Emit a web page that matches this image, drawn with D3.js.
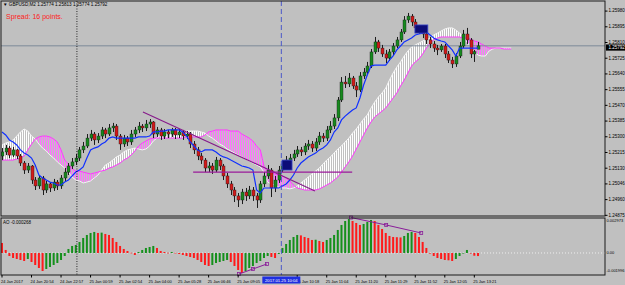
<!DOCTYPE html>
<html><head><meta charset="utf-8">
<script src="https://cdn.jsdelivr.net/npm/d3@7"></script>
<style>
html,body{margin:0;padding:0;background:#c0c0c0;overflow:hidden}
svg{display:block}
text{font-family:"Liberation Sans",Arial,sans-serif}
</style>
</head><body>
<svg id="c" width="625" height="285"></svg>
<script>
// ---------------- DATA ----------------
const opens = [
1.25196,1.25218,1.25239,1.25201,1.25229,1.25196,1.25158,1.25120,1.25142,1.25066,
1.25034,1.25077,1.25012,1.25045,1.25023,1.25055,1.25034,1.25077,1.25109,1.25142,
1.25164,1.25185,1.25229,1.25250,1.25293,1.25315,1.25283,1.25304,1.25337,1.25315,
1.25348,1.25358,1.25304,1.25261,1.25293,1.25272,1.25315,1.25337,1.25358,1.25348,
1.25369,1.25380,1.25315,1.25337,1.25304,1.25326,1.25315,1.25337,1.25310,1.25326,
1.25304,1.25315,1.25261,1.25229,1.25196,1.25174,1.25131,1.25142,1.25120,1.25174,
1.25142,1.25088,1.25045,1.25012,1.24980,1.24958,1.25001,1.24980,1.25012,1.24980,
1.24958,1.25045,1.25088,1.25120,1.25023,1.25066,1.25120,1.25153,1.25174,1.25185,
1.25207,1.25229,1.25218,1.25250,1.25261,1.25239,1.25272,1.25304,1.25293,1.25337,
1.25358,1.25402,1.25499,1.25596,1.25586,1.25618,1.25575,1.25553,1.25629,1.25650,
1.25683,1.25759,1.25813,1.25780,1.25748,1.25726,1.25759,1.25791,1.25824,1.25867,
1.25932,1.25953,1.25921,1.25889,1.25878,1.25856,1.25824,1.25802,1.25780,1.25770,
1.25791,1.25748,1.25715,1.25694,1.25737,1.25791,1.25856,1.25824,1.25748,1.25774];
const highs = [
1.25239,1.25256,1.25250,1.25245,1.25234,1.25207,1.25169,1.25158,1.25147,1.25082,
1.25093,1.25088,1.25061,1.25055,1.25072,1.25066,1.25093,1.25131,1.25158,1.25185,
1.25207,1.25245,1.25272,1.25315,1.25337,1.25326,1.25320,1.25353,1.25348,1.25369,
1.25375,1.25369,1.25315,1.25310,1.25304,1.25337,1.25353,1.25380,1.25369,1.25391,
1.25396,1.25385,1.25353,1.25348,1.25342,1.25337,1.25348,1.25348,1.25342,1.25337,
1.25331,1.25326,1.25277,1.25245,1.25212,1.25185,1.25164,1.25158,1.25191,1.25185,
1.25153,1.25104,1.25061,1.25028,1.24996,1.25018,1.25023,1.25034,1.25028,1.24996,
1.25061,1.25109,1.25147,1.25131,1.25088,1.25142,1.25174,1.25196,1.25207,1.25229,
1.25250,1.25245,1.25266,1.25283,1.25277,1.25293,1.25326,1.25320,1.25358,1.25385,
1.25423,1.25515,1.25623,1.25629,1.25645,1.25629,1.25596,1.25650,1.25672,1.25705,
1.25775,1.25840,1.25824,1.25797,1.25770,1.25775,1.25807,1.25840,1.25883,1.25953,
1.25970,1.25964,1.25937,1.25905,1.25889,1.25867,1.25840,1.25818,1.25797,1.25802,
1.25802,1.25764,1.25732,1.25753,1.25813,1.25878,1.25889,1.25834,1.25770,1.25813];
const lows = [
1.25174,1.25201,1.25185,1.25191,1.25180,1.25142,1.25099,1.25104,1.25045,1.25012,
1.25018,1.24985,1.24996,1.25001,1.25007,1.25012,1.25018,1.25061,1.25093,1.25126,
1.25147,1.25169,1.25212,1.25239,1.25277,1.25256,1.25266,1.25288,1.25293,1.25304,
1.25326,1.25283,1.25229,1.25245,1.25250,1.25256,1.25299,1.25320,1.25326,1.25331,
1.25348,1.25293,1.25299,1.25283,1.25288,1.25293,1.25299,1.25288,1.25293,1.25283,
1.25288,1.25239,1.25207,1.25174,1.25153,1.25109,1.25109,1.25099,1.25109,1.25120,
1.25066,1.25023,1.24985,1.24947,1.24920,1.24936,1.24953,1.24963,1.24953,1.24915,
1.24942,1.25028,1.25072,1.24974,1.25001,1.25050,1.25109,1.25137,1.25158,1.25169,
1.25191,1.25196,1.25201,1.25229,1.25218,1.25223,1.25256,1.25272,1.25277,1.25320,
1.25342,1.25385,1.25488,1.25564,1.25569,1.25559,1.25515,1.25542,1.25613,1.25634,
1.25672,1.25748,1.25759,1.25732,1.25699,1.25710,1.25742,1.25780,1.25813,1.25856,
1.25916,1.25899,1.25872,1.25856,1.25834,1.25802,1.25780,1.25759,1.25742,1.25759,
1.25726,1.25699,1.25672,1.25678,1.25726,1.25780,1.25802,1.25726,1.25705,1.25774];
const closes = [
1.25218,1.25239,1.25201,1.25229,1.25196,1.25158,1.25120,1.25142,1.25066,1.25034,
1.25077,1.25012,1.25045,1.25023,1.25055,1.25034,1.25077,1.25109,1.25142,1.25164,
1.25185,1.25229,1.25250,1.25293,1.25315,1.25283,1.25304,1.25337,1.25315,1.25348,
1.25358,1.25304,1.25261,1.25293,1.25272,1.25315,1.25337,1.25358,1.25348,1.25369,
1.25380,1.25315,1.25337,1.25304,1.25326,1.25315,1.25337,1.25310,1.25326,1.25304,
1.25315,1.25261,1.25229,1.25196,1.25174,1.25131,1.25142,1.25120,1.25174,1.25142,
1.25088,1.25045,1.25012,1.24980,1.24958,1.25001,1.24980,1.25012,1.24980,1.24958,
1.25045,1.25088,1.25120,1.25023,1.25066,1.25120,1.25153,1.25174,1.25185,1.25207,
1.25229,1.25218,1.25250,1.25261,1.25239,1.25272,1.25304,1.25293,1.25337,1.25358,
1.25402,1.25499,1.25596,1.25586,1.25618,1.25575,1.25553,1.25629,1.25650,1.25683,
1.25759,1.25813,1.25780,1.25748,1.25726,1.25759,1.25791,1.25824,1.25867,1.25932,
1.25953,1.25921,1.25889,1.25878,1.25856,1.25824,1.25802,1.25780,1.25770,1.25791,
1.25748,1.25715,1.25694,1.25737,1.25791,1.25856,1.25824,1.25748,1.25760,1.25792];
// Kijun-sen (blue line)
const kijun = [
1.25326,1.25310,1.25283,1.25272,1.25256,1.25229,1.25212,1.25201,1.25185,1.25147,
1.25093,1.25077,1.25066,1.25055,1.25050,1.25039,1.25039,1.25055,1.25066,1.25088,
1.25109,1.25120,1.25137,1.25185,1.25229,1.25239,1.25245,1.25261,1.25272,1.25293,
1.25299,1.25293,1.25293,1.25293,1.25293,1.25293,1.25293,1.25299,1.25299,1.25299,
1.25304,1.25326,1.25326,1.25331,1.25331,1.25337,1.25337,1.25337,1.25337,1.25326,
1.25304,1.25272,1.25250,1.25229,1.25218,1.25229,1.25229,1.25229,1.25218,1.25201,
1.25191,1.25185,1.25174,1.25164,1.25153,1.25142,1.25137,1.25131,1.25120,1.25012,
1.24996,1.25023,1.25023,1.25023,1.25023,1.25023,1.25034,1.25045,1.25066,1.25093,
1.25131,1.25158,1.25174,1.25191,1.25201,1.25212,1.25229,1.25239,1.25256,1.25283,
1.25326,1.25348,1.25391,1.25412,1.25429,1.25445,1.25456,1.25510,1.25580,1.25634,
1.25683,1.25688,1.25688,1.25688,1.25688,1.25715,1.25737,1.25770,1.25791,1.25813,
1.25824,1.25834,1.25851,1.25856,1.25861,1.25867,1.25851,1.25834,1.25824,1.25818,
1.25813,1.25791,1.25770,1.25737,1.25780,1.25780,1.25780,1.25780,1.25780,1.25780];
// Senkou spans (cloud), drawn white and pink
const spanWhite = [
1.25256,1.25266,1.25272,1.25283,1.25304,1.25326,1.25342,1.25331,1.25304,1.25288,
1.25261,1.25239,1.25223,1.25201,1.25185,1.25164,1.25147,1.25131,1.25109,1.25082,
1.25066,1.25061,1.25050,1.25055,1.25061,1.25077,1.25093,1.25120,1.25147,1.25158,
1.25174,1.25191,1.25201,1.25218,1.25229,1.25234,1.25239,1.25234,1.25229,1.25234,
1.25250,1.25277,1.25293,1.25310,1.25320,1.25320,1.25326,1.25326,1.25326,1.25326,
1.25331,1.25331,1.25331,1.25331,1.25326,1.25320,1.25304,1.25293,1.25277,1.25261,
1.25250,1.25234,1.25223,1.25212,1.25201,1.25191,1.25180,1.25169,1.25158,1.25147,
1.25137,1.25109,1.25055,1.25045,1.25039,1.25028,1.25023,1.25023,1.25018,1.25023,
1.25034,1.25050,1.25066,1.25082,1.25099,1.25115,1.25131,1.25153,1.25174,1.25191,
1.25212,1.25234,1.25250,1.25272,1.25293,1.25320,1.25342,1.25369,1.25396,1.25418,
1.25456,1.25488,1.25515,1.25537,1.25564,1.25607,1.25645,1.25678,1.25705,1.25737,
1.25764,1.25786,1.25797,1.25807,1.25818,1.25829,1.25834,1.25851,1.25861,1.25872,
1.25883,1.25889,1.25889,1.25878,1.25861,1.25845,1.25813,1.25786,1.25759,1.25742,
1.25737,1.25737,1.25764,1.25775,1.25780,1.25780,1.25780,1.25780,1.25780];
const spanPink = [
1.25174,1.25174,1.25174,1.25174,1.25180,1.25185,1.25196,1.25229,1.25261,1.25288,
1.25299,1.25304,1.25304,1.25299,1.25288,1.25272,1.25229,1.25174,1.25153,1.25126,
1.25115,1.25115,1.25109,1.25104,1.25099,1.25104,1.25109,1.25115,1.25120,1.25131,
1.25137,1.25147,1.25158,1.25174,1.25185,1.25201,1.25223,1.25250,1.25266,1.25277,
1.25288,1.25293,1.25293,1.25293,1.25293,1.25293,1.25293,1.25293,1.25293,1.25293,
1.25299,1.25299,1.25299,1.25299,1.25299,1.25310,1.25326,1.25331,1.25337,1.25337,
1.25337,1.25337,1.25331,1.25331,1.25331,1.25315,1.25304,1.25293,1.25277,1.25250,
1.25229,1.25142,1.25109,1.25104,1.25099,1.25093,1.25088,1.25077,1.25061,1.25039,
1.25023,1.25018,1.25012,1.25012,1.25012,1.25012,1.25018,1.25028,1.25039,1.25050,
1.25066,1.25082,1.25109,1.25137,1.25164,1.25196,1.25234,1.25272,1.25310,1.25348,
1.25380,1.25407,1.25423,1.25439,1.25456,1.25483,1.25510,1.25537,1.25575,1.25607,
1.25645,1.25683,1.25705,1.25721,1.25748,1.25780,1.25807,1.25824,1.25834,1.25840,
1.25840,1.25840,1.25840,1.25840,1.25840,1.25834,1.25834,1.25829,1.25818,1.25813,
1.25802,1.25791,1.25780,1.25780,1.25780,1.25780,1.25775,1.25775,1.25775];
// Awesome Oscillator
const ao = [
0.000875,0.000263,-0.000263,-0.000438,-0.000525,-0.000613,-0.000700,-0.000525,-0.000788,-0.001050,
-0.001313,-0.001575,-0.001400,-0.001225,-0.001050,-0.000875,-0.000613,-0.000263,0.000350,0.000613,
0.000700,0.000963,0.001313,0.001575,0.001750,0.001838,0.001750,0.001780,0.001663,0.001575,
0.001313,0.000963,0.000613,0.000350,0.000175,0.000020,-0.000175,0.000088,0.000263,0.000438,
0.000525,0.000613,0.000438,0.000175,0.000088,0.000020,0.000088,0.000010,-0.000088,-0.000175,
-0.000263,-0.000350,-0.000438,-0.000613,-0.000788,-0.001050,-0.001138,-0.001050,-0.000875,-0.000788,
-0.000700,-0.000613,-0.000788,-0.001138,-0.001488,-0.001750,-0.001575,-0.001313,-0.001138,-0.000875,
-0.000700,-0.000438,-0.000263,-0.000350,-0.000438,-0.000088,0.000438,0.000788,0.001138,0.001400,
0.001575,0.001540,0.001400,0.001313,0.001138,0.001160,0.001050,0.000963,0.001138,0.001313,
0.001575,0.002013,0.002450,0.002800,0.002973,0.002800,0.002625,0.002450,0.002538,0.002713,
0.002888,0.002800,0.002450,0.002100,0.001750,0.001488,0.001400,0.001380,0.001360,0.001488,
0.001750,0.001838,0.001750,0.001400,0.000963,0.000438,-0.000010,-0.000263,-0.000438,-0.000525,
-0.000613,-0.000640,-0.000700,-0.000525,-0.000263,-0.000010,0.000263,-0.000030,-0.000240,-0.000268];

const priceTicks = [1.25980,1.25895,1.25810,1.25725,1.25640,1.25555,1.25470,1.25385,1.25300,1.25215,1.25130,1.25045,1.24960,1.24875];
const priceTickLabels = ["1.25980","1.25895","1.25810","1.25725","1.25640","1.25555","1.25470","1.25385","1.25300","1.25215","1.25130","1.25046","1.24960","1.24875"];
const aoTicks = [0.002973, 0, -0.001996];
const aoTickLabels = ["0.002973","0.00","-0.001996"];
const timeTickBars = [0,8,16,24,32,40,48,56,64,80,88,96,104,112,120,128];
const timeLabels = ["24 Jan 2017","24 Jan 20:54","24 Jan 22:57","25 Jan 00:59","25 Jan 02:54","25 Jan 04:00","25 Jan 05:28","25 Jan 06:46","25 Jan 09:05","25 Jan 10:18","25 Jan 11:04","25 Jan 11:20","25 Jan 11:29","25 Jan 11:52","25 Jan 12:05","25 Jan 13:21"];
const crosshairBar = 75.7, crosshairLabel = "2017.01.25 10:04";
const separatorBar = 20.3;
const bidPrice = 1.25792;
const titleText = "GBPUSD,M2  1.25774 1.25813 1.25774 1.25792";
const spreadText = "Spread: 16 points.";
const aoLabel = "AO -0.000268";
const trendDown = [[38.2,1.25434],[84.8,1.25007]];
const supportLine = [[51.8,1.25109],[94.9,1.25109]];
const aoTrendTop = [[94.6,0.00310],[104.1,0.00245],[113.6,0.00175]];
const aoTrendLow = [[64.2,-0.00184],[68,-0.00140],[71.8,-0.00096]];
const boxes = [[75.9,78.6,1.25174,1.25120],[111.9,115.4,1.25905,1.25861]];

// ---------------- LAYOUT ----------------
const X0=1, X1=605, MT=1, MB=216, AT=218, AB=275;
const svg = d3.select("#c");
const x = d3.scaleLinear().domain([0,163]).range([2, 2+163*3.69]);
const y = d3.scaleLinear().domain([1.248714,1.260346]).range([MB,MT]);
const ya = d3.scaleLinear().domain([-0.001996,0.002973]).range([275.8,219]);

svg.append("rect").attr("width",625).attr("height",285).attr("fill","#c0c0c0");
const defs = svg.append("defs");
defs.append("clipPath").attr("id","clipMain").append("rect").attr("x",X0).attr("y",MT).attr("width",X1-X0).attr("height",MB-MT);
defs.append("clipPath").attr("id","clipAO").append("rect").attr("x",X0).attr("y",AT).attr("width",X1-X0).attr("height",AB-AT);
function hatch(id,col){
  const p=defs.append("pattern").attr("id",id).attr("patternUnits","userSpaceOnUse").attr("width",2).attr("height",2);
  p.append("rect").attr("x",0).attr("y",0).attr("width",1).attr("height",2).attr("fill",col);
}
hatch("hPink","#ff70ff"); hatch("hWhite","#ffffff");
const cIdx = d3.range(spanWhite.length);
defs.append("clipPath").attr("id","belowPink").append("path")
  .attr("d", d3.area().x(i=>x(i)).y0(i=>y(spanPink[i])).y1(MB+5)(cIdx));
defs.append("clipPath").attr("id","abovePink").append("path")
  .attr("d", d3.area().x(i=>x(i)).y0(MT-5).y1(i=>y(spanPink[i]))(cIdx));

const gMain = svg.append("g").attr("clip-path","url(#clipMain)");
const between = d3.area().x(i=>x(i)).y0(i=>y(spanWhite[i])).y1(i=>y(spanPink[i]));
gMain.append("g").attr("clip-path","url(#belowPink)").append("path").attr("d",between(cIdx)).attr("fill","url(#hPink)");
gMain.append("g").attr("clip-path","url(#abovePink)").append("path").attr("d",between(cIdx)).attr("fill","url(#hWhite)");
const lineW = d3.line().x(i=>x(i)).y(i=>y(spanWhite[i]));
const lineP = d3.line().x(i=>x(i)).y(i=>y(spanPink[i]));
gMain.append("path").attr("d",lineW(cIdx)).attr("fill","none").attr("stroke","#f4f4f4").attr("stroke-width",1);
gMain.append("path").attr("d",lineP(cIdx)).attr("fill","none").attr("stroke","#ff38ff").attr("stroke-width",1);

// bid line
gMain.append("line").attr("x1",X0).attr("x2",X1).attr("y1",y(bidPrice)).attr("y2",y(bidPrice)).attr("stroke","#7d8a98").attr("stroke-width",1);

// candles
const bars = closes.map((c,i)=>({i,o:opens[i],h:highs[i],l:lows[i],c}));
const gC = gMain.append("g");
gC.selectAll("line").data(bars).join("line")
  .attr("x1",d=>Math.round(x(d.i))+0.5).attr("x2",d=>Math.round(x(d.i))+0.5)
  .attr("y1",d=>y(d.h)).attr("y2",d=>y(d.l)).attr("stroke","#1c1c1c").attr("stroke-width",1);
gC.selectAll("rect").data(bars).join("rect")
  .attr("x",d=>Math.round(x(d.i))-1).attr("width",3)
  .attr("y",d=>y(Math.max(d.o,d.c)))
  .attr("height",d=>Math.max(1,Math.abs(y(d.o)-y(d.c))))
  .attr("fill",d=>d.c>=d.o?"#178a1e":"#d21a1a")
  .attr("stroke","#1c1c1c").attr("stroke-width",0.4);

// kijun
gMain.append("path").attr("d",d3.line().x((d,i)=>x(i)).y(d=>y(d))(kijun))
  .attr("fill","none").attr("stroke","#1030ff").attr("stroke-width",1.2);

// trend lines
const lp = d3.line().x(d=>x(d[0])).y(d=>y(d[1]));
gMain.append("path").attr("d",lp(trendDown)).attr("stroke","#86198a").attr("stroke-width",1.1).attr("fill","none");
gMain.append("path").attr("d",lp(supportLine)).attr("stroke","#9a1a9a").attr("stroke-width",1.4).attr("fill","none");
// boxes
gMain.selectAll("rect.box").data(boxes).join("rect").attr("class","box")
  .attr("x",d=>x(d[0])).attr("width",d=>x(d[1])-x(d[0]))
  .attr("y",d=>y(d[2])).attr("height",d=>y(d[3])-y(d[2]))
  .attr("fill","#0c0c78").attr("stroke","#3a48c8").attr("stroke-width",0.8);

// AO panel
const gAO = svg.append("g").attr("clip-path","url(#clipAO)");
gAO.append("line").attr("x1",X0).attr("x2",X1).attr("y1",ya(0)).attr("y2",ya(0))
  .attr("stroke","#eeeeee").attr("stroke-dasharray","1,2");
gAO.selectAll("rect").data(ao).join("rect")
  .attr("x",(d,i)=>x(i)-1).attr("width",2)
  .attr("y",d=>Math.min(ya(d),ya(0))).attr("height",d=>Math.max(0.6,Math.abs(ya(d)-ya(0))))
  .attr("fill",(d,i)=>(i>0 && d>ao[i-1])?"#15901c":"#ff1a1a");
const la = d3.line().x(d=>x(d[0])).y(d=>ya(d[1]));
[aoTrendTop,aoTrendLow].forEach(t=>{
  svg.append("path").attr("d",la(t)).attr("stroke","#8a1c9a").attr("stroke-width",1).attr("fill","none");
  svg.selectAll(null).data(t).join("rect").attr("x",d=>x(d[0])-1.5).attr("y",d=>ya(d[1])-1.5)
    .attr("width",3).attr("height",3).attr("fill","none").attr("stroke","#8a1c9a").attr("stroke-width",0.8);
});

// vertical lines
svg.append("line").attr("x1",x(separatorBar)).attr("x2",x(separatorBar)).attr("y1",MT).attr("y2",AB)
  .attr("stroke","#000").attr("stroke-width",0.8).attr("stroke-dasharray","1,1.5");
svg.append("line").attr("x1",x(crosshairBar)).attr("x2",x(crosshairBar)).attr("y1",MT).attr("y2",AB)
  .attr("stroke","#4b58c8").attr("stroke-width",1).attr("stroke-dasharray","5,3");

// frames
svg.append("rect").attr("x",X0).attr("y",MT).attr("width",X1-X0).attr("height",MB-MT).attr("fill","none").attr("stroke","#1a1a1a").attr("stroke-width",1);
svg.append("rect").attr("x",X0).attr("y",AT).attr("width",X1-X0).attr("height",AB-AT).attr("fill","none").attr("stroke","#1a1a1a").attr("stroke-width",1);

// price axis
const gy = svg.append("g");
priceTicks.forEach((v,k)=>{
  gy.append("line").attr("x1",X1).attr("x2",X1+2.5).attr("y1",y(v)).attr("y2",y(v)).attr("stroke","#000");
  gy.append("text").attr("x",X1+3.5).attr("y",y(v)+1.3).attr("font-size",4.5).attr("fill","#000").text(priceTickLabels[k]);
});
gy.append("rect").attr("x",X1+1).attr("y",y(bidPrice)-1.4).attr("width",625-X1-1).attr("height",6.2).attr("fill","#000");
gy.append("text").attr("x",X1+3.5).attr("y",y(bidPrice)+3.3).attr("font-size",4.5).attr("fill","#fff").text(bidPrice.toFixed(5));
aoTicks.forEach((v,k)=>{
  const yy = k===0 ? 221.5 : (k===2 ? 272 : ya(v)+1.5);
  gy.append("text").attr("x",X1+1.5).attr("y",yy).attr("font-size",4).attr("fill","#000").text(aoTickLabels[k]);
});

// time axis
const gx = svg.append("g");
timeTickBars.forEach((b,k)=>{
  gx.append("line").attr("x1",x(b)).attr("x2",x(b)).attr("y1",AB).attr("y2",AB+2.5).attr("stroke","#000");
  gx.append("text").attr("x",x(b)-1).attr("y",282.5).attr("font-size",4).attr("fill","#000").text(timeLabels[k]);
});
const cx = x(crosshairBar);
gx.append("rect").attr("x",cx-19).attr("y",276.5).attr("width",38).attr("height",7).attr("fill","#1f2fe0");
gx.append("text").attr("x",cx).attr("y",282.2).attr("text-anchor","middle").attr("font-size",4.2).attr("fill","#fff").text(crosshairLabel);

// titles
svg.append("text").attr("x",3).attr("y",6).attr("font-size",4.6).attr("fill","#000").text("▼ " + titleText);
svg.append("text").attr("x",6).attr("y",18.5).attr("font-size",7).attr("fill","#ff2020").text(spreadText);
svg.append("text").attr("x",3).attr("y",224).attr("font-size",4.5).attr("fill","#000").text(aoLabel);
</script>
</body></html>
